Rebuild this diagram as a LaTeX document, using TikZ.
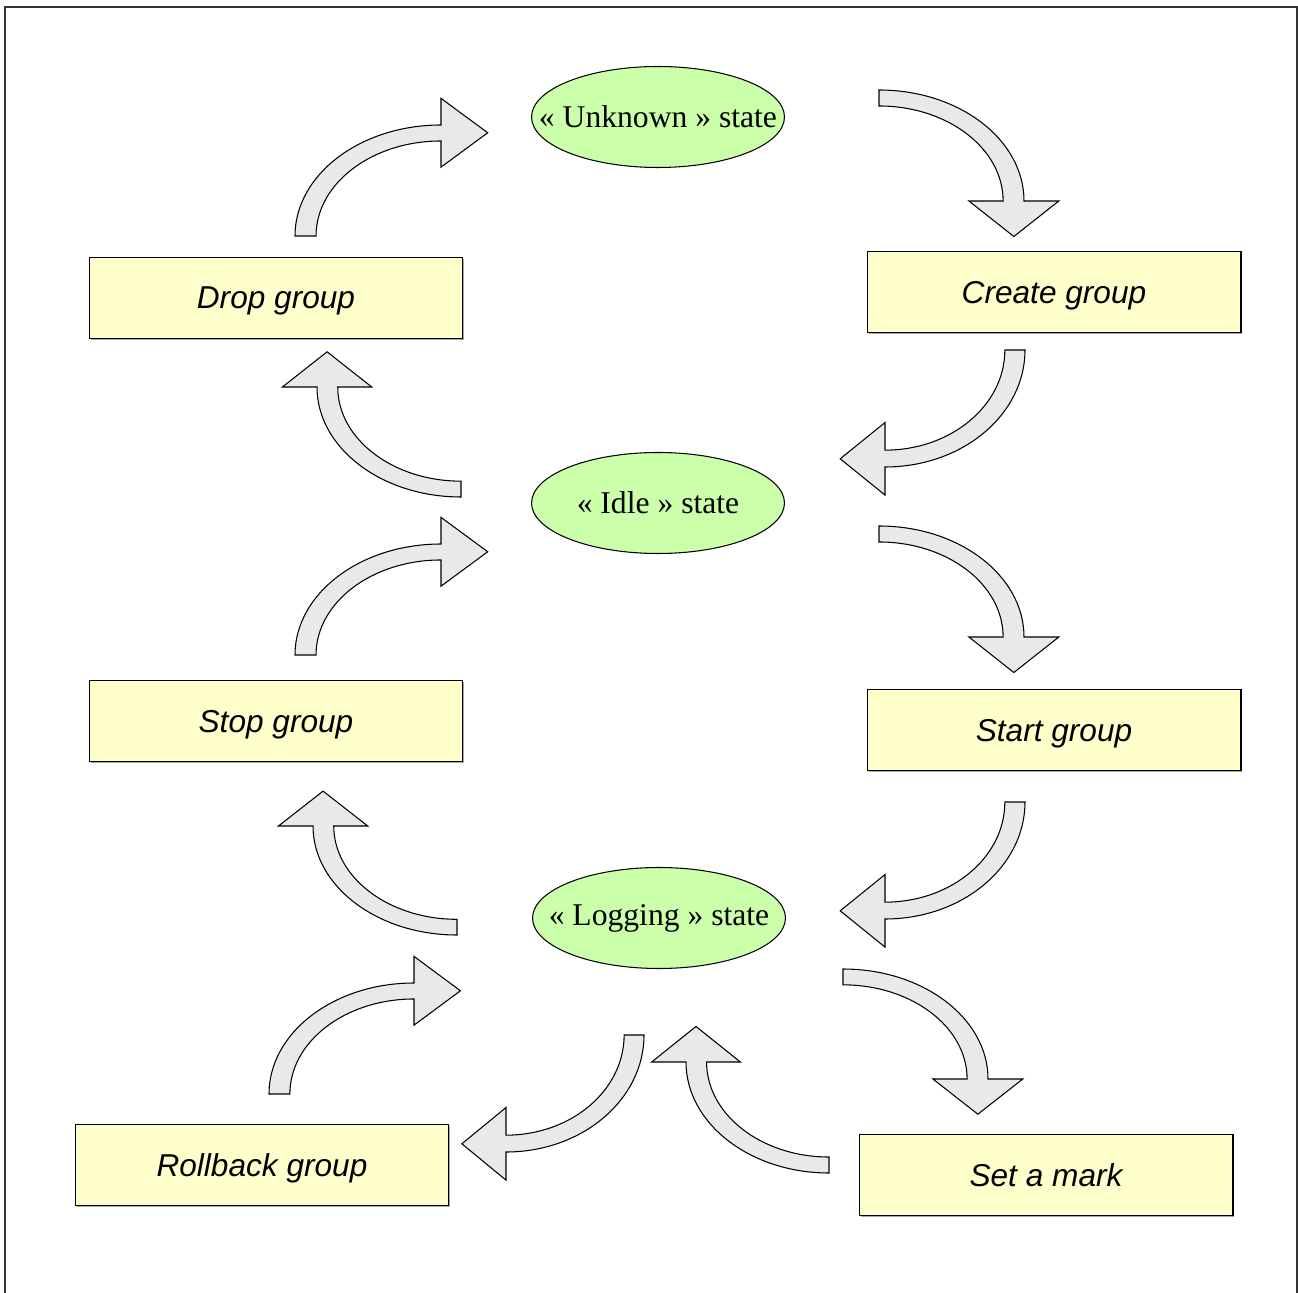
\documentclass[tikz,border=0pt]{standalone}
\usepackage{fontspec}
\setmainfont{Liberation Serif}
\newfontfamily\boxfont{Liberation Sans}
\usetikzlibrary{shapes.geometric,shadows}
\definecolor{stategreen}{RGB}{204,255,170}
\definecolor{boxyellow}{RGB}{255,255,204}
\definecolor{arrowgray}{RGB}{233,233,233}
\tikzset{
  statenode/.style={ellipse, draw=black, line width=0.6pt, fill=stategreen,
    minimum width=5.06cm, minimum height=2.02cm, inner sep=0pt,
    font=\fontsize{18}{21}\selectfont},
  actionbox/.style={rectangle, draw=black, line width=0.6pt, fill=boxyellow,
    minimum width=7.48cm, minimum height=1.62cm, inner sep=0pt, text depth=0pt,
    font=\boxfont\itshape\fontsize{18}{21}\selectfont,
    drop shadow={shadow xshift=0.03cm, shadow yshift=-0.03cm, fill=gray!70, opacity=1}},
  blockarrow/.style={draw=black, line width=0.6pt, fill=arrowgray, line join=miter},
  framebox/.style={draw=black!80, line width=1pt}
}
\newcommand\blockarc[5]{% cx, cy, rx, ry, rotate
  \begin{scope}[shift={(#1,#2)}, xscale=#3, yscale=#4, rotate=#5]
    \draw[blockarrow] (-1,0) .. controls (-1,-0.5523) and (-0.5523,-1) .. (0,-1)
      -- (0,-1.24) -- (0.32,-0.93) -- (0,-0.62) -- (0,-0.856)
      .. controls (-0.4728,-0.856) and (-0.856,-0.4728) .. (-0.856,0) -- cycle;
  \end{scope}}
\begin{document}
\begin{tikzpicture}[x=0.02cm, y=-0.02cm]
  \useasboundingbox (0,0) rectangle (1298,1293);
  \coordinate (fbl) at (5,1293);
  \coordinate (ftl) at (5,7);
  \coordinate (ftr) at (1297,7);
  \coordinate (fbr) at (1297,1293);
  \draw[framebox] (fbl) -- (ftl) -- (ftr) -- (fbr);

  % states
  \node[statenode] (unknown) at (658,117) {\makebox[0pt]{« Unknown » state}};
  \node[statenode] (idle) at (658,503) {\makebox[0pt]{« Idle » state}};
  \node[statenode] (logging) at (659,918) {\makebox[0pt]{« Logging » state}};

  % actions
  \node[actionbox] (drop) at (276,298) {Drop group};
  \node[actionbox] (create) at (1054,292) {Create group};
  \node[actionbox] (stop) at (276,721) {Stop group};
  \node[actionbox] (start) at (1054,730) {Start group};
  \node[actionbox] (rollback) at (262,1165) {Rollback group};
  \node[actionbox] (mark) at (1046,1175) {Set a mark};

  % curved block arrows
  \blockarc{441}{236}{146}{111}{0}
  \blockarc{879}{201}{145}{111}{-90}
  \blockarc{885}{350}{140}{117}{180}
  \blockarc{461}{387}{144}{110}{90}
  \blockarc{441}{655}{146}{111}{0}
  \blockarc{879}{637}{145}{111}{-90}
  \blockarc{885}{802}{140}{117}{180}
  \blockarc{457}{826}{144}{109}{90}
  \blockarc{414}{1094}{145}{111}{0}
  \blockarc{843}{1079}{145}{110}{-90}
  \blockarc{506}{1035}{138}{117}{180}
  \blockarc{829}{1062}{143}{111}{90}
\end{tikzpicture}
\end{document}
